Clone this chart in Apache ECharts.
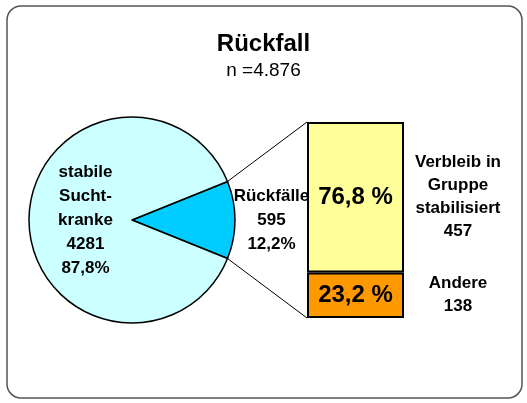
<!DOCTYPE html>
<html>
<head>
<meta charset="utf-8">
<script src="https://cdn.jsdelivr.net/npm/echarts@6/dist/echarts.min.js"></script>
<style>
  html, body { margin: 0; padding: 0; background: #fff; }
  #chart { width: 527px; height: 403px; }
</style>
</head>
<body>
<div id="chart"></div>
<script>
// Daten
var pieNames = ['Rückfälle', 'stabile\nSucht-\nkranke'];
var pieValues = [595, 4281];
var pieColors = ['#00CCFF', '#CCFFFF'];

var barNames = ['Verbleib in\nGruppe\nstabilisiert', 'Andere'];
var barCounts = [457, 138];
var barShares = [76.8, 23.2];
var barColors = ['#FFFF99', '#FF9900'];

var total = pieValues[0] + pieValues[1];
var narrow = '"Liberation Sans Narrow", "Liberation Sans", Arial, sans-serif';
var sans = '"Liberation Sans", Arial, sans-serif';

function komma(v) {
    return String(v).replace('.', ',');
}

var pieCenter = [132, 220];
var pieRadius = 103;
// kleines Segment symmetrisch um 3 Uhr
var halfAngle = pieValues[0] / total * 180;

var myChart = echarts.init(document.getElementById('chart'));

var pieData = [];
for (let i = 0; i < pieValues.length; i++) {
    pieData.push({
        name: pieNames[i],
        value: pieValues[i],
        itemStyle: { color: pieColors[i] },
        label: i == 0 ? { offset: [85, 0] } : { offset: [8, 0] }
    });
}

// Balken gestapelt, unten "Andere"
var barSeries = [];
for (let i = barShares.length - 1; i >= 0; i--) {
    barSeries.push({
        type: 'bar',
        stack: 'r',
        xAxisIndex: 0,
        yAxisIndex: 0,
        barWidth: '100%',
        data: [barShares[i]],
        itemStyle: { color: barColors[i], borderColor: '#000', borderWidth: 2 },
        label: {
            show: true,
            position: 'inside',
            formatter: function (p) { return komma(p.value) + ' %'; },
            fontFamily: sans,
            fontWeight: 'bold',
            fontSize: 24,
            color: '#000'
        },
        silent: true
    });
}

var option = {
    animation: false,
    title: {
        text: 'Rückfall',
        subtext: 'n =' + (total / 1000).toFixed(3),
        left: 'center',
        top: 27,
        itemGap: 5,
        textStyle: { fontFamily: sans, fontSize: 24, fontWeight: 'bold', color: '#000' },
        subtextStyle: { fontFamily: sans, fontSize: 19, color: '#000' }
    },
    grid: { left: 307, top: 122, width: 97, height: 196 },
    xAxis: { type: 'category', data: ['r'], show: false },
    yAxis: { type: 'value', min: 0, max: 100, show: false },
    series: [{
        type: 'pie',
        center: pieCenter,
        radius: pieRadius,
        startAngle: halfAngle,
        clockwise: true,
        silent: true,
        data: pieData,
        itemStyle: { borderColor: '#000', borderWidth: 1.5 },
        label: {
            show: true,
            position: 'inside',
            formatter: function (p) {
                return p.name + '\n' + p.value + '\n' + komma(p.percent.toFixed(1)) + '%';
            },
            fontFamily: narrow,
            fontWeight: 'bold',
            fontSize: 17,
            lineHeight: 24,
            color: '#000'
        },
        labelLine: { show: false }
    }].concat(barSeries)
};

myChart.setOption(option);

// Rahmen, Verbindungslinien und Beschriftung rechts
var rad = halfAngle * Math.PI / 180;
var pTop = [pieCenter[0] + pieRadius * Math.cos(rad), pieCenter[1] - pieRadius * Math.sin(rad)];
var pBot = [pieCenter[0] + pieRadius * Math.cos(rad), pieCenter[1] + pieRadius * Math.sin(rad)];
var bTop = myChart.convertToPixel({ gridIndex: 0 }, ['r', 100]);
var bBot = myChart.convertToPixel({ gridIndex: 0 }, ['r', 0]);
var barLeft = bTop[0] - 97 / 2;
var barRight = bTop[0] + 97 / 2;

var graphics = [
    {
        type: 'rect',
        shape: { x: 7, y: 6, width: 515, height: 392, r: 14 },
        style: { fill: 'none', stroke: '#555', lineWidth: 1.5 },
        z: -1
    },
    {
        type: 'line',
        shape: { x1: pTop[0], y1: pTop[1], x2: barLeft, y2: bTop[1] },
        style: { stroke: '#000', lineWidth: 1 }
    },
    {
        type: 'line',
        shape: { x1: pBot[0], y1: pBot[1], x2: barLeft, y2: bBot[1] },
        style: { stroke: '#000', lineWidth: 1 }
    }
];

var cum = 0;
for (let i = barShares.length - 1; i >= 0; i--) {
    var mid = myChart.convertToPixel({ gridIndex: 0 }, ['r', cum + barShares[i] / 2]);
    cum += barShares[i];
    graphics.push({
        type: 'text',
        x: barRight + 54,
        y: mid[1],
        style: {
            text: barNames[i] + '\n' + barCounts[i],
            font: 'bold 17px ' + narrow,
            lineHeight: 23,
            fill: '#000',
            align: 'center',
            verticalAlign: 'middle'
        }
    });
}

myChart.setOption({ graphic: graphics });
</script>
</body>
</html>
